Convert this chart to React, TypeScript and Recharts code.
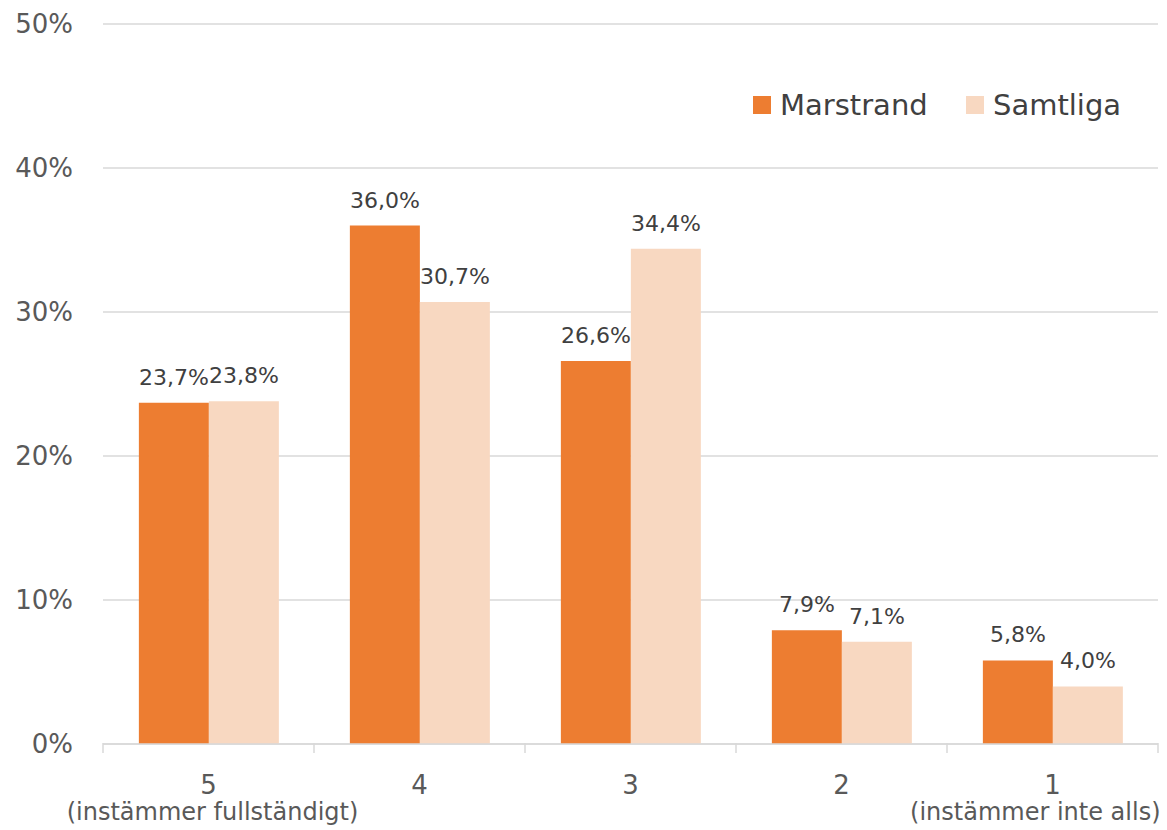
import React from 'react'
import { BarChart, Bar, XAxis, YAxis, CartesianGrid, LabelList } from 'recharts'

const categories = ['5', '4', '3', '2', '1']
const subLabels = ['(instämmer fullständigt)', '', '', '', '(instämmer inte alls)']
const marstrand = [23.7, 36.0, 26.6, 7.9, 5.8]
const samtliga = [23.8, 30.7, 34.4, 7.1, 4.0]
const yTicks = [0, 10, 20, 30, 40, 50]

const data = categories.map((c, i) => ({ cat: c, sub: subLabels[i], marstrand: marstrand[i], samtliga: samtliga[i] }))

const FONT = '"DejaVu Sans", sans-serif'
const TEXT = '#595959'
const DARK = '#404040'
const ORANGE = '#ED7D31'
const PEACH = '#F8D8C1'
const AXIS = '#D9D9D9'

const W = 1167
const H = 830
const LEFT = 103
const RIGHT = 9
const BAND = (W - LEFT - RIGHT) / categories.length

const fmt = (v: number) => v.toFixed(1).replace('.', ',') + '%'

function YTick({ y, payload }: any) {
  return (
    <text x={73} y={y} dy={9} textAnchor="end" fontSize={26} fill={TEXT} fontFamily={FONT}>
      {payload.value}%
    </text>
  )
}

function XTick({ x, y, payload, index }: any) {
  const sub = subLabels[index]
  const last = index === categories.length - 1
  const axisY = y - 9
  return (
    <g>
      <line x1={x - BAND / 2} x2={x - BAND / 2} y1={axisY} y2={axisY + 10} stroke={AXIS} strokeWidth={1.5} />
      {last && <line x1={x + BAND / 2} x2={x + BAND / 2} y1={axisY} y2={axisY + 10} stroke={AXIS} strokeWidth={1.5} />}
      <text x={x} y={y + 42} textAnchor="middle" fontSize={26} fill={TEXT} fontFamily={FONT}>
        {payload.value}
      </text>
      {sub && (
        <text x={last ? x + 108 : x + 4} y={y + 68} textAnchor={last ? 'end' : 'middle'} fontSize={24} fill={TEXT} fontFamily={FONT}>
          {sub}
        </text>
      )}
    </g>
  )
}

const legendItems = [
  { name: 'Marstrand', color: ORANGE, left: 753 },
  { name: 'Samtliga', color: PEACH, left: 966 },
]

export default function App() {
  return (
    <div style={{ position: 'absolute', left: 0, top: 0, width: W, height: H, background: '#fff' }}>
      <BarChart
        width={W}
        height={H}
        data={data}
        margin={{ top: 24, right: RIGHT, left: 0, bottom: 0 }}
        barCategoryGap="17%"
        barGap={0}
      >
        <CartesianGrid stroke={AXIS} strokeWidth={1.5} vertical={false} />
        <XAxis
          dataKey="cat"
          height={86}
          stroke={AXIS}
          strokeWidth={1.5}
          tickLine={false}
          tick={<XTick />}
          interval={0}
        />
        <YAxis
          width={LEFT}
          domain={[0, 50]}
          ticks={yTicks}
          axisLine={false}
          tickLine={false}
          tick={<YTick />}
        />
        <Bar dataKey="marstrand" name="Marstrand" fill={ORANGE} isAnimationActive={false}>
          <LabelList dataKey="marstrand" position="top" offset={18} formatter={fmt as any} fontSize={22} fill={DARK} fontFamily={FONT} />
        </Bar>
        <Bar dataKey="samtliga" name="Samtliga" fill={PEACH} isAnimationActive={false}>
          <LabelList dataKey="samtliga" position="top" offset={18} formatter={fmt as any} fontSize={22} fill={DARK} fontFamily={FONT} />
        </Bar>
      </BarChart>
      {legendItems.map((it) => (
        <div
          key={it.name}
          style={{
            position: 'absolute', top: 88, left: it.left, display: 'flex', alignItems: 'center',
            fontFamily: FONT, fontSize: 29, color: DARK, lineHeight: '34px',
          }}
        >
          <span style={{ width: 18, height: 18, background: it.color, display: 'inline-block', marginRight: 9 }} />
          {it.name}
        </div>
      ))}
    </div>
  )
}
